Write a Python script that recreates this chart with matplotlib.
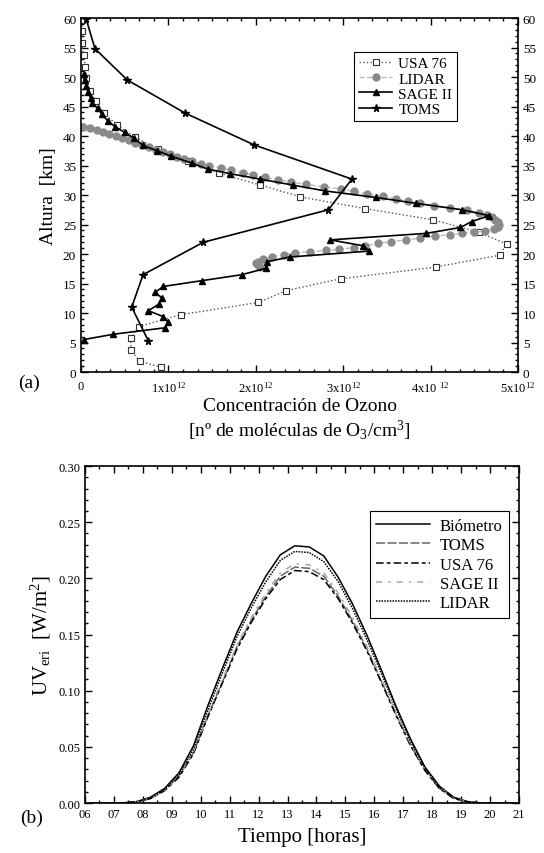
import matplotlib
matplotlib.use("Agg")
import matplotlib.pyplot as plt
from matplotlib.ticker import MultipleLocator, AutoMinorLocator, FixedLocator, FixedFormatter

plt.rcParams['font.family'] = ['Liberation Serif', 'DejaVu Serif']
plt.rcParams['mathtext.fontset'] = 'custom'
plt.rcParams['mathtext.rm'] = 'Liberation Serif'
plt.rcParams['mathtext.it'] = 'Liberation Serif:italic'

#### data, panel (a): ozone profiles (x in units of 1e12 molecules/cm3, altitude in km)

usa_alt = [0.8, 1.8, 3.8, 5.8, 7.7, 9.7, 11.8, 13.8, 15.8, 17.8, 19.8, 21.7, 23.7,
           25.8, 27.7, 29.7, 31.7, 33.7, 35.8, 37.8, 39.8, 41.9, 43.9, 45.9, 47.7,
           49.8, 51.7, 53.7, 55.8, 57.8, 59.7]
usa_conc = [0.92, 0.67, 0.57, 0.57, 0.66, 1.14, 2.03, 2.35, 2.97, 4.06, 4.79, 4.87, 4.55,
            4.03, 3.25, 2.51, 2.05, 1.58, 1.22, 0.88, 0.62, 0.41, 0.26, 0.17, 0.10,
            0.06, 0.05, 0.03, 0.01, 0.01, 0.01]

lidar_alt = [41.5, 41.3, 41.0, 40.7, 40.4, 40.0, 39.7, 39.3, 38.9, 38.5, 38.1, 37.7,
             37.3, 36.9, 36.5, 36.1, 35.7, 35.3, 35.0, 34.6, 34.2, 33.8, 33.4, 33.0,
             32.6, 32.2, 31.8, 31.4, 31.0, 30.6, 30.2, 29.8, 29.4, 29.0, 28.6, 28.2,
             27.8, 27.4, 27.0, 26.6, 26.2, 25.8, 25.4, 25.0, 24.6, 24.2, 23.9, 23.7,
             23.5, 23.3, 23.0, 22.7, 22.4, 22.1, 21.8, 21.4, 21.1, 20.8, 20.6, 20.4,
             20.2, 19.9, 19.5, 19.1, 18.7, 18.4, 18.1, 17.8]
lidar_conc = [0.02, 0.10, 0.18, 0.25, 0.32, 0.40, 0.47, 0.55, 0.62, 0.70, 0.78, 0.86,
              0.94, 1.02, 1.10, 1.18, 1.27, 1.37, 1.47, 1.60, 1.72, 1.85, 1.97, 2.10,
              2.25, 2.40, 2.58, 2.78, 2.98, 3.12, 3.27, 3.45, 3.60, 3.74, 3.88, 4.04,
              4.22, 4.42, 4.55, 4.64, 4.70, 4.74, 4.77, 4.78, 4.77, 4.72, 4.62, 4.50,
              4.36, 4.22, 4.05, 3.88, 3.72, 3.55, 3.40, 3.25, 3.12, 2.95, 2.80, 2.62,
              2.45, 2.32, 2.18, 2.08, 2.02, 2.00, 2.02, 2.05]

sage_alt = [50.5, 49.5, 48.4, 47.5, 46.5, 45.6, 44.7, 43.7, 42.5, 41.6, 40.6, 39.6,
            38.4, 37.5, 36.6, 35.4, 34.4, 33.6, 32.7, 31.7, 30.7, 29.6, 28.6, 27.5,
            26.5, 25.5, 24.5, 23.5, 22.4, 21.4, 20.5, 19.5, 18.7, 17.6, 16.5, 15.5,
            14.5, 13.5, 12.5, 11.5, 10.4, 9.4, 8.4, 7.5, 6.4, 5.5]
sage_conc = [0.04, 0.05, 0.06, 0.08, 0.11, 0.13, 0.19, 0.24, 0.31, 0.39, 0.50, 0.61,
             0.71, 0.87, 1.03, 1.27, 1.45, 1.71, 2.05, 2.42, 2.79, 3.37, 3.83, 4.36,
             4.67, 4.47, 4.34, 3.95, 2.85, 3.23, 3.30, 2.39, 2.13, 2.12, 1.84, 1.39,
             0.94, 0.85, 0.93, 0.89, 0.77, 0.94, 1.00, 0.96, 0.37, 0.03]

toms_alt = [59.8, 54.8, 49.5, 43.9, 38.5, 32.7, 27.5, 22.0, 16.5, 11.0, 5.3]
toms_conc = [0.06, 0.16, 0.53, 1.19, 1.98, 3.10, 2.83, 1.40, 0.71, 0.58, 0.77]

conc_ticks = [0, 1, 2, 3, 4, 5]
conc_labels = ["0", "1x10$^{12}$", "2x10$^{12}$", "3x10$^{12}$", "4x10 $^{12}$", "5x10$^{12}$"]

#### data, panel (b): erythemal UV irradiance

hours = [6.25, 6.75, 7.25, 7.75, 8.25, 8.75, 9.25, 9.75, 10.25, 10.75, 11.25, 11.75,
         12.25, 12.75, 13.25, 13.75, 14.25, 14.75, 15.25, 15.75, 16.25, 16.75, 17.25,
         17.75, 18.25, 18.75, 19.25, 19.75, 20.25, 20.75]
uv_biometro = [0, 0, 0, 0.001, 0.005, 0.013, 0.027, 0.051, 0.087, 0.120, 0.152, 0.178,
               0.202, 0.221, 0.229, 0.228, 0.220, 0.201, 0.177, 0.149, 0.118, 0.086,
               0.057, 0.032, 0.015, 0.005, 0.001, 0, 0, 0]
uv_toms = [0, 0, 0, 0.001, 0.004, 0.011, 0.024, 0.045, 0.078, 0.108, 0.139, 0.163,
           0.184, 0.202, 0.210, 0.209, 0.202, 0.184, 0.162, 0.137, 0.108, 0.079,
           0.052, 0.029, 0.013, 0.004, 0.001, 0, 0, 0]
uv_usa = [0, 0, 0, 0.001, 0.004, 0.011, 0.023, 0.044, 0.077, 0.107, 0.137, 0.161,
          0.182, 0.199, 0.207, 0.206, 0.199, 0.182, 0.160, 0.135, 0.107, 0.078,
          0.051, 0.029, 0.013, 0.004, 0.001, 0, 0, 0]
uv_sage = [0, 0, 0, 0.001, 0.004, 0.011, 0.024, 0.046, 0.079, 0.110, 0.141, 0.165,
           0.187, 0.205, 0.213, 0.212, 0.205, 0.187, 0.165, 0.139, 0.110, 0.080,
           0.053, 0.030, 0.014, 0.005, 0.001, 0, 0, 0]
uv_lidar = [0, 0, 0, 0.001, 0.004, 0.012, 0.025, 0.048, 0.083, 0.116, 0.148, 0.174,
            0.197, 0.216, 0.224, 0.223, 0.215, 0.197, 0.173, 0.145, 0.115, 0.084,
            0.055, 0.031, 0.014, 0.005, 0.001, 0, 0, 0]

hour_ticks = list(range(6, 22))
hour_labels = ["%02d" % h for h in hour_ticks]


def style_axes(ax, size):
    """ box with inward ticks on all four sides """
    for s in ax.spines.values():
        s.set_linewidth(1.2)
    ax.tick_params(which='both', direction='in', top=True, right=True,
                   labelsize=size, width=1)
    ax.tick_params(which='major', length=5)
    ax.tick_params(which='minor', length=2.5)


fig = plt.figure(figsize=(5.44, 8.54), dpi=100)

#### panel (a)

ax1 = fig.add_axes([0.1489, 0.5632, 0.8033, 0.4145])
ax1.plot(usa_conc, usa_alt, linestyle=':', color='#555555', lw=1,
         marker='s', ms=4.5, mfc='white', mec='#333333', mew=0.8, label='USA 76')
ax1.plot(lidar_conc, lidar_alt, linestyle='--', color='#bbbbbb', lw=1,
         marker='o', ms=5, mfc='#8a8a8a', mec='#8a8a8a', label='LIDAR')
ax1.plot(sage_conc, sage_alt, '-', color='black', lw=1.2,
         marker='^', ms=4, label='SAGE II')
ax1.plot(toms_conc, toms_alt, '-', color='black', lw=1.2,
         marker='*', ms=5.5, label='TOMS')

ax1.set_xlim(0, 5)
ax1.set_ylim(0, 60)
ax1.xaxis.set_major_locator(FixedLocator(conc_ticks))
ax1.xaxis.set_major_formatter(FixedFormatter(conc_labels))
ax1.xaxis.set_minor_locator(AutoMinorLocator(6))
ax1.yaxis.set_major_locator(MultipleLocator(5))
ax1.yaxis.set_minor_locator(MultipleLocator(1))
style_axes(ax1, 9.5)
ax1.tick_params(axis='y', labelright=True)
ax1.tick_params(axis='x', pad=5.5, labelsize=9)
ax1.set_ylabel("Altura  [km]", fontsize=14, labelpad=4)

leg1 = ax1.legend(loc='upper left', bbox_to_anchor=(0.625, 0.904), borderaxespad=0,
                  fontsize=11, numpoints=1, handlelength=2.2, labelspacing=0.1,
                  handletextpad=0.4, borderpad=0.3, fancybox=False, framealpha=1,
                  edgecolor='black')
leg1.get_frame().set_linewidth(0.8)

fig.text(0.551, 1 - 407 / 854, "Concentración de Ozono", ha='center', va='center', fontsize=14)
fig.text(0.551, 1 - 431 / 854, "[nº de moléculas de O$_3$/cm$^3$]", ha='center',
         va='center', fontsize=14)
fig.text(18 / 544, 1 - 383 / 854, "(a)", ha='left', va='center', fontsize=14)

#### panel (b)

ax2 = fig.add_axes([0.1563, 0.0585, 0.7978, 0.3946])
ax2.plot(hours, uv_biometro, '-', color='black', lw=1.1, label='Biómetro')
ax2.plot(hours, uv_toms, color='#666666', lw=1.1, dashes=[6, 1.5], label='TOMS')
ax2.plot(hours, uv_usa, color='black', lw=1.1, dashes=[5, 2, 2.5, 2], label='USA 76')
ax2.plot(hours, uv_sage, color='#aaaaaa', lw=1.1, dashes=[4, 4, 1.5, 4], label='SAGE II')
ax2.plot(hours, uv_lidar, color='black', lw=1.1, dashes=[1, 0.8], label='LIDAR')

ax2.set_xlim(6, 21)
ax2.set_ylim(0, 0.30)
ax2.xaxis.set_major_locator(FixedLocator(hour_ticks))
ax2.xaxis.set_major_formatter(FixedFormatter(hour_labels))
ax2.xaxis.set_minor_locator(MultipleLocator(0.5))
ax2.yaxis.set_major_locator(MultipleLocator(0.05))
ax2.yaxis.set_minor_locator(MultipleLocator(0.01))
ax2.yaxis.set_major_formatter(plt.FormatStrFormatter('%.2f'))
style_axes(ax2, 9)
ax2.set_ylabel("UV$_{\\mathrm{eri}}$  [W/m$^2$]", fontsize=15, labelpad=4)
ax2.set_xlabel("Tiempo [horas]", fontsize=15, labelpad=5)

leg2 = ax2.legend(loc='upper right', bbox_to_anchor=(0.977, 0.866), borderaxespad=0,
                  fontsize=12, handlelength=3.2, labelspacing=0.2, handletextpad=0.6,
                  borderpad=0.4, fancybox=False, framealpha=1, edgecolor='black')
leg2.get_frame().set_linewidth(0.8)

fig.text(32 / 544, 1 - 818 / 854, "(b)", ha='center', va='center', fontsize=14)

fig.savefig("out.png", dpi=100)
